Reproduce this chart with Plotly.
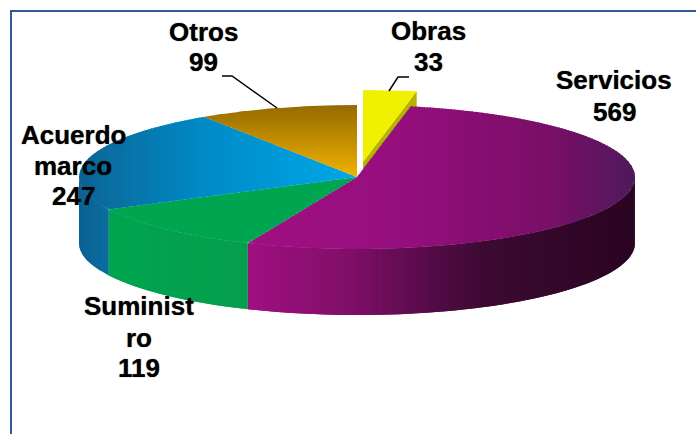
import numpy as np
import plotly.graph_objects as go

categories = ["Obras", "Servicios", "Suministro", "Acuerdo marco", "Otros"]
values = [33, 569, 119, 247, 99]
label_lines = [["Obras", "33"], ["Servicios", "569"], ["Suminist", "ro", "119"],
               ["Acuerdo", "marco", "247"], ["Otros", "99"]]

# pie geometry in page pixels
cx, cy, rx, ry = 357, 177, 278, 72
depth = 66
explode = (6, -15)

# colour stops: (position, rgb); position is x or y depending on the axis
top_style = {
    "Servicios": ("x", [(248, (160, 16, 130)), (400, (150, 15, 126)), (550, (122, 14, 104)), (634, (79, 26, 92))]),
    "Suministro": ("x", [(108, (0, 165, 80)), (248, (0, 165, 80))]),
    "Acuerdo marco": ("x", [(79, (10, 98, 148)), (108, (10, 110, 160)), (200, (0, 138, 198)), (357, (0, 168, 232))]),
    "Otros": ("y", [(105, (150, 106, 0)), (177, (240, 180, 0))]),
}
wall_style = {
    "Servicios": [(248, (160, 15, 128)), (348, (127, 15, 104)), (420, (90, 12, 76)), (480, (61, 10, 51)), (634, (42, 5, 34))],
    "Suministro": [(108, (0, 165, 80)), (248, (6, 158, 78))],
    "Acuerdo marco": [(79, (10, 98, 148)), (108, (10, 110, 160))],
}
yellow = "#f0f000"
olive = "#b4b400"

total = sum(values)
angles = np.cumsum([0] + values) / total * 2 * np.pi
spans = {c: (angles[i], angles[i + 1]) for i, c in enumerate(categories)}


def rim(a):
    return cx + rx * np.sin(a), cy - ry * np.cos(a)


def sector(a0, a1):
    t = np.linspace(a0, a1, 160)
    xs, ys = rim(t)
    return np.r_[cx, xs], np.r_[cy, ys]


def colour(stops, p):
    pos = [s[0] for s in stops]
    rgb = [np.interp(p, pos, [s[1][k] for s in stops]) for k in range(3)]
    return "rgb(%d,%d,%d)" % tuple(rgb)


def clip(pts, lo, hi, axis):
    # Sutherland-Hodgman against the band lo..hi on one axis
    for limit, sign in ((lo, 1), (hi, -1)):
        out = []
        for i in range(len(pts)):
            p, q = pts[i], pts[(i + 1) % len(pts)]
            dp, dq = sign * (p[axis] - limit), sign * (q[axis] - limit)
            if dp >= 0:
                out.append(p)
            if dp * dq < 0:
                f = dp / (dp - dq)
                out.append((p[0] + f * (q[0] - p[0]), p[1] + f * (q[1] - p[1])))
        pts = out
        if not pts:
            return []
    return pts


fig = go.Figure()


def poly(xs, ys, col, seam=0.0):
    xs, ys = list(xs), list(ys)
    fig.add_trace(go.Scatter(x=xs + xs[:1], y=ys + ys[:1], mode="lines", fill="toself", fillcolor=col,
                             line=dict(color=col, width=seam), hoverinfo="skip", showlegend=False))


# exploded slice: cut face first, then its top
a0, a1 = spans["Obras"]
ex, ey = explode
rx1, ry1 = rim(a1)
poly([cx + ex, rx1 + ex, rx1 + ex, cx + ex], [cy + ey, ry1 + ey, ry1 + ey + depth, cy + ey + depth], olive)
xs, ys = sector(a0, a1)
poly(xs + ex, ys + ey, yellow)

# walls of the front slices, cut in narrow steps so the shade can change
for name, stops in wall_style.items():
    a0, a1 = spans[name]
    a0 = max(a0, np.pi / 2)
    a1 = min(a1, 1.5 * np.pi)
    n = max(2, int(abs(rim(a1)[0] - rim(a0)[0]) / 4))
    edges = np.linspace(a0, a1, n + 1)
    for b0, b1 in zip(edges[:-1], edges[1:]):
        # reach a little into the next step so no light seam is left
        t = np.linspace(b0, min(b1 + (b1 - b0), a1), 5)
        xs, ys = rim(t)
        poly(np.r_[xs, xs[::-1]], np.r_[ys, ys[::-1] + depth], colour(stops, xs.mean()))

# tops, in bands along the shading axis
for name, (axis, stops) in top_style.items():
    a0, a1 = spans[name]
    xs, ys = sector(a0, a1)
    pts = list(zip(xs, ys))
    vals = xs if axis == "x" else ys
    step = 3
    for lo in np.arange(np.floor(vals.min()), vals.max(), step):
        part = clip(pts, lo, lo + step + 1, 0 if axis == "x" else 1)
        if len(part) >= 3:
            poly([p[0] for p in part], [p[1] for p in part], colour(stops, lo + step / 2))

# leader lines
for lx, ly in (([222, 232, 277], [76, 76, 108]), ([409, 398, 389], [77, 77, 91])):
    fig.add_trace(go.Scatter(x=lx, y=ly, mode="lines", line=dict(color="black", width=1.5),
                             hoverinfo="skip", showlegend=False))

# label anchors: centre x, y of each text line
label_pos = {
    "Obras": (428, [31, 62]),
    "Servicios": (614, [80, 112]),
    "Suministro": (139, [306, 338, 368]),
    "Acuerdo marco": (73, [135, 166, 196]),
    "Otros": (203, [32, 62]),
}
for name, lines in zip(categories, label_lines):
    lx, lys = label_pos[name]
    for line, ly in zip(lines, lys):
        fig.add_annotation(x=lx, y=ly, text="<b>%s</b>" % line, showarrow=False, xanchor="center", yanchor="middle",
                           font=dict(family="Liberation Sans, Arial, sans-serif", size=26, color="black",
                                     shadow="0 0 1px rgba(0,0,0,0.7)"))

# frame runs off the page on the right and at the bottom
fig.add_shape(type="rect", x0=11, y0=11, x1=720, y1=460, line=dict(color="#2f5a96", width=2), layer="above")

fig.update_layout(
    width=696, height=434, margin=dict(l=0, r=0, t=0, b=0),
    paper_bgcolor="white", plot_bgcolor="white",
    xaxis=dict(range=[0, 696], visible=False, fixedrange=True),
    yaxis=dict(range=[434, 0], visible=False, fixedrange=True),
)

fig.write_html("out.html", config={"displayModeBar": False},
               post_script="document.body.style.margin='0';document.body.style.overflow='hidden';")
